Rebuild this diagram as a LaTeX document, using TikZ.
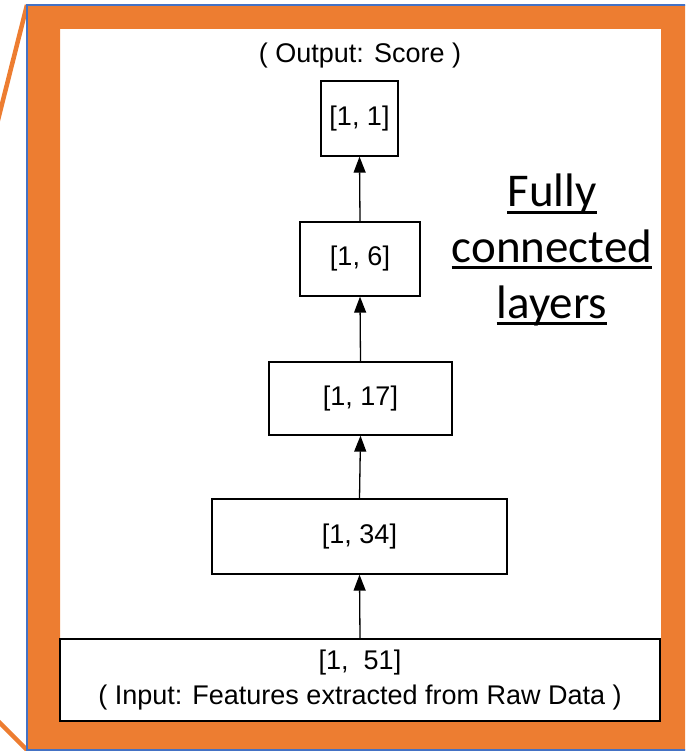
\documentclass[tikz,border=0pt]{standalone}
\usepackage{fontspec}
\setmainfont{Liberation Sans}
\newfontfamily\calibrifont{Carlito}
\usetikzlibrary{arrows.meta}
\definecolor{frameorange}{HTML}{ED7D31}
\definecolor{frameblue}{HTML}{4472C4}
\begin{document}
\begin{tikzpicture}[x=1pt,y=-1pt,
  layer/.style={draw, line width=1.3pt, fill=white, inner sep=0pt,
    font=\fontsize{27}{35}\selectfont},
  flow/.style={line width=1.3pt, -{Triangle[length=16pt,width=12pt]}},
  fc/.style={inner sep=0pt, anchor=base, font=\calibrifont\fontsize{47}{56}\selectfont},
  callout/.style={frameorange, line width=4.5pt},
]
\useasboundingbox (0,0) rectangle (685,751);
\clip (0,0) rectangle (685,751);

% callout lines leading to the magnified panel
\draw[callout] (-30,231) -- (27,5);
\draw[callout] (-20,703) -- (27,750);

% orange frame with blue outline
\fill[frameorange, even odd rule] (27,5) rectangle (700,750) (60,29) rectangle (661,722);
\draw[frameblue, line width=2.5pt] (27,5) rectangle (700,750);

% layer sizes
\node[font=\fontsize{27}{31}\selectfont, inner sep=0pt] (outlbl) at (360,56) {( Output: Score )};
\node[layer, minimum width=77pt, minimum height=75pt] (l1) at (359.5,118.5) {[1, 1]};
\node[layer, minimum width=120pt, minimum height=74pt] (l6) at (360,259) {[1, 6]};
\node[layer, minimum width=183pt, minimum height=73pt] (l17) at (360.5,398.5) {[1, 17]};
\node[layer, minimum width=295pt, minimum height=75pt] (l34) at (359.5,536.5) {[1, 34]};
\node[layer, minimum width=600pt, minimum height=82pt, align=center] (l51) at (360,680)
  {[1,\ \ 51]\\( Input: Features extracted from Raw Data )};

% data flow
\draw[flow] (l51.north) -- (l34.south);
\draw[flow] (l34.north) -- (l17.south);
\draw[flow] (l17.north) -- (l6.south);
\draw[flow] (l6.north) -- (l1.south);

% side caption
\node[fc] (fc1) at (552,207) {Fully};
\node[fc] (fc2) at (552,262) {connected};
\node[fc] (fc3) at (552,318) {layers};
\foreach \n in {fc1,fc2,fc3}
  \draw[line width=2.5pt] ([yshift=-5.5pt]\n.base west) -- ([yshift=-5.5pt]\n.base east);
\end{tikzpicture}
\end{document}
